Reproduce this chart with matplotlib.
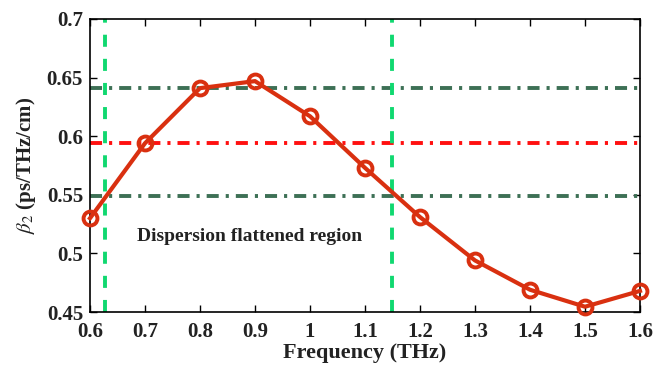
import matplotlib
matplotlib.use("Agg")
import matplotlib.pyplot as plt

freq = [0.6, 0.7, 0.8, 0.9, 1.0, 1.1, 1.2, 1.3, 1.4, 1.5, 1.6]
beta2 = [0.530, 0.594, 0.641, 0.647, 0.617, 0.573, 0.531, 0.494, 0.469, 0.4545, 0.468]
h_upper = 0.641
h_mid = 0.594
h_lower = 0.549
v_left = 0.627
v_right = 1.149
xticks = [0.6, 0.7, 0.8, 0.9, 1.0, 1.1, 1.2, 1.3, 1.4, 1.5, 1.6]
xticklabels = ["0.6", "0.7", "0.8", "0.9", "1", "1.1", "1.2", "1.3", "1.4", "1.5", "1.6"]
yticks = [0.45, 0.5, 0.55, 0.6, 0.65, 0.7]
yticklabels = ["0.45", "0.5", "0.55", "0.6", "0.65", "0.7"]

plt.rcParams['font.family'] = ['Liberation Serif', 'DejaVu Serif']
plt.rcParams['mathtext.fontset'] = 'stix'

fig = plt.figure(figsize=(6.63, 3.65), dpi=100)
ax = fig.add_axes([90/663, 1-312/365, 550/663, 293/365])

dd = (3.1, 1.8, 0.8, 1.8)
ax.axhline(h_upper, color='#3d7055', lw=2.8, dashes=dd)
ax.axhline(h_lower, color='#3d7055', lw=2.8, dashes=dd)
ax.axhline(h_mid, color='#ff1010', lw=2.8, dashes=dd)
ax.axvline(v_left, color='#10d870', lw=2.8, dashes=(3.1, 3.1))
ax.axvline(v_right, color='#10d870', lw=2.8, dashes=(3.1, 3.1))

ax.plot(freq, beta2, color='#d93010', lw=3, marker='o', ms=10, mfc='none',
        mec='#d93010', mew=2.8, clip_on=False, zorder=5)

ax.text(0.685, 0.514, "Dispersion flattened region", fontsize=14,
        fontweight='bold', color='#222222', va='center', ha='left')

ax.set_xlim(0.6, 1.6)
ax.set_ylim(0.45, 0.7)
ax.set_xticks(xticks)
ax.set_xticklabels(xticklabels)
ax.set_yticks(yticks)
ax.set_yticklabels(yticklabels)
ax.tick_params(direction='in', top=True, right=True, labelsize=15, length=5, width=1)
ax.tick_params(axis='x', pad=7)
ax.tick_params(axis='y', pad=5)
for lab in ax.get_xticklabels() + ax.get_yticklabels():
    lab.set_fontweight('bold')
    lab.set_color('#222222')
for s in ax.spines.values():
    s.set_linewidth(1.2)

ax.set_xlabel("Frequency (THz)", fontsize=16, fontweight='bold', color='#222222', labelpad=1)
ax.set_ylabel(r"$\mathregular{\beta_2}$ (ps/THz/cm)", fontsize=15, fontweight='bold', color='#222222', labelpad=6)
ax.set_ylabel(r"$\beta_2$ (ps/THz/cm)", fontsize=15, fontweight='bold', color='#222222', labelpad=6)

fig.savefig("out.png", dpi=100)
